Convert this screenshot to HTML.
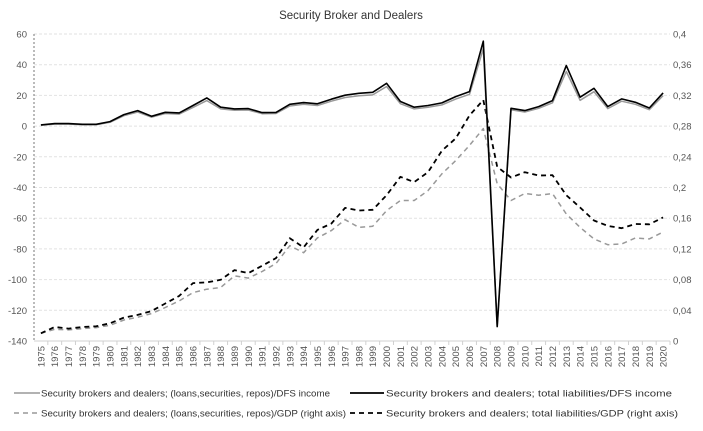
<!DOCTYPE html>
<html><head><meta charset="utf-8"><style>
html,body{margin:0;padding:0;background:#fff}
svg{display:block;font-family:"Liberation Sans",sans-serif}
</style></head><body>
<svg id="chart" width="703" height="431" viewBox="0 0 703 431">
<text x="351" y="19" text-anchor="middle" font-size="11.5" fill="#333">Security Broker and Dealers</text>
<g id="grid"></g><g id="axes"></g><g id="series"></g>
<g font-size="9.5" fill="#333">
<g><line x1="14" y1="393" x2="40" y2="393" stroke="#999" stroke-width="1.5"/><text x="41" y="396.5" textLength="289" lengthAdjust="spacingAndGlyphs">Security brokers and dealers; (loans,securities, repos)/DFS income</text></g>
<g><line x1="350" y1="393" x2="384" y2="393" stroke="#000" stroke-width="1.8"/><text x="386" y="396.5" textLength="286" lengthAdjust="spacingAndGlyphs">Security brokers and dealers; total liabilities/DFS income</text></g>
<g><line x1="14" y1="413" x2="40" y2="413" stroke="#999" stroke-width="1.5" stroke-dasharray="5,4"/><text x="41" y="416.5" textLength="305" lengthAdjust="spacingAndGlyphs">Security brokers and dealers; (loans,securities, repos)/GDP (right axis)</text></g>
<g><line x1="350" y1="413" x2="384" y2="413" stroke="#000" stroke-width="1.8" stroke-dasharray="5,4"/><text x="386" y="416.5" textLength="292" lengthAdjust="spacingAndGlyphs">Security brokers and dealers; total liabilities/GDP (right axis)</text></g>
</g>
</svg>
<script>
const years = [];
for (let y = 1975; y <= 2020; y++) years.push(String(y));
const leftTicks = [60,40,20,0,-20,-40,-60,-80,-100,-120,-140];
const rightTicks = ["0,4","0,36","0,32","0,28","0,24","0,2","0,16","0,12","0,08","0,04","0"];
const liabDfs = [0.8,1.6,1.6,1.2,1.2,2.9,7.5,10.1,6.4,9,8.6,13.4,18.4,12.3,11.2,11.4,8.8,8.9,14.2,15.3,14.5,17.5,20.1,21.4,22,27.9,16,12.3,13.4,15.1,19.2,22.5,55.3,-130.6,11.6,10.1,12.7,16.6,39.4,18.8,24.6,12.7,17.7,15.5,11.8,21.6];
const loansDfs = [0.6,1.3,1.3,0.9,0.9,2.5,6.8,9.2,5.8,8.2,7.8,12.2,16.6,11.2,10.3,10.5,8.1,8.2,13.1,14.2,13.4,16.2,18.6,19.8,20.3,25.8,14.6,11.2,12.3,13.8,17.6,20.7,50.5,-130.6,10.6,9.2,11.6,15.2,35.6,16.8,22.4,11.4,16.2,14.2,10.7,19.9];
const liabGdp = [0.010,0.0183,0.0161,0.0183,0.0192,0.0231,0.0305,0.034,0.039,0.0488,0.0588,0.0754,0.0763,0.0797,0.0924,0.0885,0.098,0.108,0.134,0.122,0.1447,0.153,0.1734,0.170,0.171,0.190,0.214,0.207,0.220,0.248,0.264,0.294,0.314,0.227,0.213,0.220,0.2157,0.216,0.190,0.174,0.157,0.150,0.147,0.1525,0.152,0.161];
const loansGdp = [0.010,0.0153,0.0144,0.0161,0.0174,0.0205,0.0274,0.031,0.0357,0.0436,0.0523,0.063,0.0675,0.0697,0.085,0.082,0.0905,0.101,0.1242,0.115,0.1343,0.1438,0.158,0.148,0.1495,0.1699,0.183,0.183,0.196,0.2178,0.235,0.2549,0.2767,0.205,0.183,0.1922,0.19,0.192,0.1655,0.148,0.133,0.1255,0.1264,0.1342,0.133,0.142];

const NS = "http://www.w3.org/2000/svg";
const X0 = 34, X1 = 670, YT = 34, YB = 341;
const step = (X1 - X0) / years.length;
const xPos = i => X0 + (i + 0.5) * step;
const yLeft = v => YB - (v + 140) / 200 * (YB - YT);
const yRight = v => YB - v / 0.4 * (YB - YT);
function mk(tag, attrs, parent) {
  const e = document.createElementNS(NS, tag);
  for (const k in attrs) e.setAttribute(k, attrs[k]);
  parent.appendChild(e); return e;
}
const grid = document.getElementById('grid'), axes = document.getElementById('axes'), ser = document.getElementById('series');
leftTicks.forEach((t, i) => {
  const y = yLeft(t);
  if (t !== -140) {
    const g = mk('line', {x1: X0, x2: X1, y1: y, y2: y, stroke: '#e2e2e2', 'stroke-width': 1, 'stroke-dasharray': '3,2'}, grid);
    
    
  }
  const tx = mk('text', {x: 27, y: y + 3.5, 'text-anchor': 'end', 'font-size': 9.5, fill: '#555'}, axes);
  tx.textContent = t;
  
  
  const rt = mk('text', {x: 673, y: y + 3.5, 'font-size': 9.5, fill: '#555'}, axes);
  rt.textContent = rightTicks[i];
  
  
});
const ya = mk('line', {x1: X0, x2: X0, y1: YT, y2: YB, stroke: '#777', 'stroke-width': 1, 'stroke-dasharray': '2,2'}, axes);


const xa = mk('line', {x1: X0, x2: X1, y1: YB, y2: YB, stroke: '#d0d0d0', 'stroke-width': 1}, axes);


years.forEach((yr, i) => {
  const x = xPos(i);
  const tk = mk('line', {x1: X0 + (i+1)*step, x2: X0 + (i+1)*step, y1: YB, y2: YB + 4, stroke: '#d0d0d0'}, axes);
  
  
  const t = mk('text', {x: 0, y: 0, 'text-anchor': 'end', 'font-size': 9.5, fill: '#555', transform: `translate(${x + 3.5},346) rotate(-90)`}, axes);
  t.textContent = yr;
  
  
});
function line(vals, yf, stroke, w, dash, name) {
  const d = vals.map((v, i) => (i ? 'L' : 'M') + xPos(i).toFixed(1) + ',' + yf(v).toFixed(1)).join('');
  const p = mk('path', {d: d, fill: 'none', stroke: stroke, 'stroke-width': w, 'stroke-linejoin': 'round'}, ser);
  if (dash) p.setAttribute('stroke-dasharray', dash);
  
  
}
line(loansGdp, yRight, '#999', 1.5, '5,4', 'series-loans-gdp');
line(liabGdp, yRight, '#000', 1.8, '5,4', 'series-liabilities-gdp');
line(loansDfs, yLeft, '#999', 1.5, null, 'series-loans-dfs');
line(liabDfs, yLeft, '#000', 1.6, null, 'series-liabilities-dfs');
</script>
</body></html>
